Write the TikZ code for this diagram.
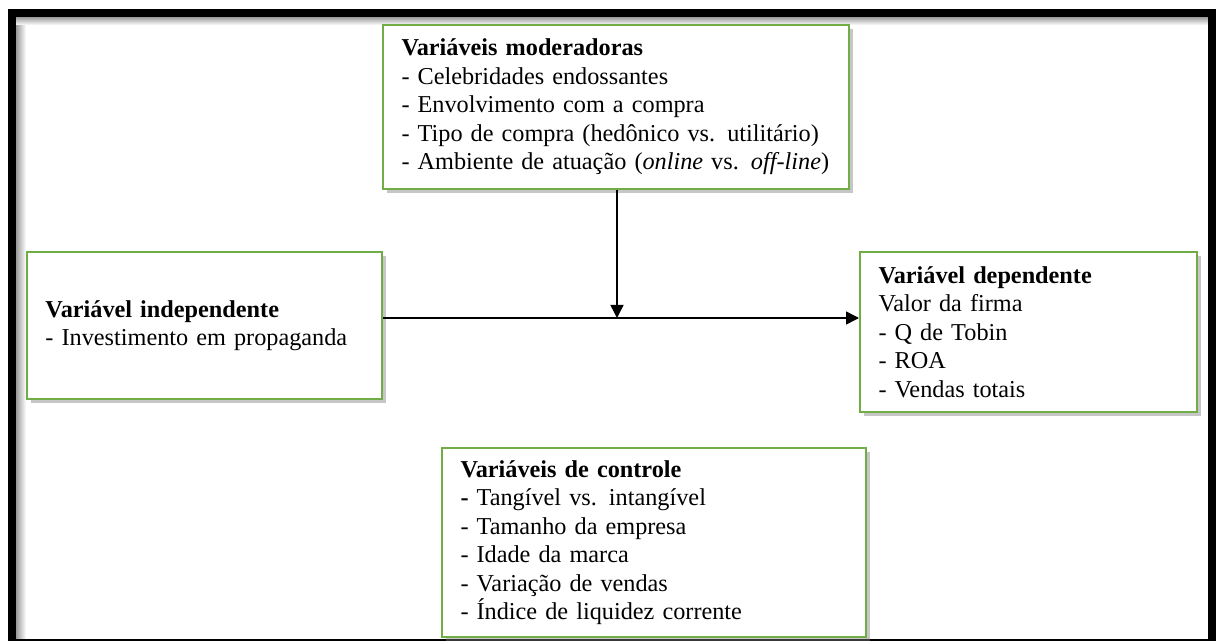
\documentclass[tikz,border=0pt]{standalone}
\usepackage{fontspec}
\setmainfont{Liberation Serif}
\usetikzlibrary{arrows.meta, positioning, calc, shadows}
\definecolor{boxgreen}{HTML}{70AD47}
\definecolor{framegray}{HTML}{9A9A9A}
\tikzset{
  varbox/.style={draw=boxgreen, fill=white, line width=0.04cm,
              text width=#1, inner xsep=0.37cm, inner ysep=0pt,
              align=left, text=black,
              font=\fontsize{13.8}{16.2}\selectfont,
              drop shadow={shadow xshift=0.07cm, shadow yshift=-0.09cm,
                           opacity=0.45}},
  vararr/.style={-{Triangle[length=0.26cm, width=0.26cm]}, line width=0.03cm,
              color=black},
}

\begin{document}
\begin{tikzpicture}
  \useasboundingbox (0,0) rectangle (24.32,-12.82);
  % frame
  \fill[left color=framegray, right color=white] (0.32,-12.78) rectangle (0.52,-0.34);
  \fill[top color=framegray, bottom color=white] (0.32,-0.34) rectangle (24.16,-0.5);
  \draw[line width=0.16cm] (0.24,-12.8) -- (0.24,-0.26) -- (24.24,-0.26) -- (24.24,-12.8);
  \draw[line width=0.04cm] (0.16,-12.8) -- (24.32,-12.8);

  \node[varbox=8.58cm, minimum height=3.28cm] (mod) at (12.32,-2.14)
    {\textbf{Variáveis moderadoras}\\
     - Celebridades endossantes\\
     - Envolvimento com a compra\\
     - Tipo de compra (hedônico vs. utilitário)\\
     - Ambiente de atuação (\textit{online} vs. \textit{off-line})};
  \node[varbox=6.36cm, minimum height=2.94cm] (ind) at (4.09,-6.51)
    {\textbf{Variável independente}\\
     - Investimento em propaganda};
  \node[varbox=6.0cm, minimum height=3.2cm] (dep) at (20.57,-6.64)
    {\textbf{Variável dependente}\\
     Valor da firma\\
     - Q de Tobin\\
     - ROA\\
     - Vendas totais};
  \node[varbox=7.74cm, minimum height=3.78cm] (ctl) at (13.08,-10.85)
    {\textbf{Variáveis de controle}\\
     \textbf{-} Tangível vs. intangível\\
     - Tamanho da empresa\\
     - Idade da marca\\
     - Variação de vendas\\
     - Índice de liquidez corrente};

  \coordinate (j) at (12.34,-6.36);
  \draw[vararr] (j -| ind.east) -- (j -| dep.west);
  \draw[vararr] (mod.south -| j) -- (j);
\end{tikzpicture}
\end{document}
